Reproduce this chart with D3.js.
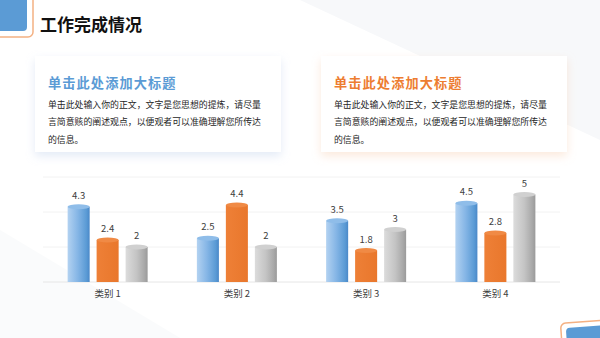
<!DOCTYPE html>
<html>
<head>
<meta charset="utf-8">
<script src="https://cdn.jsdelivr.net/npm/d3@7"></script>
<style>
  body { margin: 0; background: #fff; }
  svg { display: block; font-family: "Noto Sans CJK SC", "Noto Sans", sans-serif; }
</style>
</head>
<body>
<div id="chart"></div>
<script>
// data
const categories = ["类别 1", "类别 2", "类别 3", "类别 4"];
const series1 = [4.3, 2.5, 3.5, 4.5];
const series2 = [2.4, 4.4, 1.8, 2.8];
const series3 = [2, 2, 3, 5];
const yTicks = [0, 2, 4, 6];

const cardTitle = "单击此处添加大标题";
const cardLines = ["单击此处输入你的正文，文字是您思想的提炼，请尽量", "言简意赅的阐述观点，以便观者可以准确理解您所传达", "的信息。"];

const W = 600, H = 338;
const svg = d3.select("#chart").append("svg")
  .attr("width", W).attr("height", H);

const defs = svg.append("defs");

// soft shadows for the two cards
function shadow(id, color) {
  const f = defs.append("filter").attr("id", id)
    .attr("x", "-20%").attr("y", "-30%").attr("width", "140%").attr("height", "160%");
  f.append("feDropShadow").attr("dx", 0).attr("dy", 4).attr("stdDeviation", 5)
    .attr("flood-color", color).attr("flood-opacity", 0.4);
}
shadow("shBlue", "#b9cdea");
shadow("shOrange", "#f6c9a8");

// cylinder gradients
function grad(id, stops) {
  const g = defs.append("linearGradient").attr("id", id)
    .attr("x1", "0%").attr("x2", "100%").attr("y1", "0%").attr("y2", "0%");
  stops.forEach(s => g.append("stop").attr("offset", s[0]).attr("stop-color", s[1]));
}
grad("gBlue", [["0%", "#b3d2f1"], ["45%", "#86b6e6"], ["85%", "#5b9bd5"], ["100%", "#4a88c8"]]);
grad("gOrange", [["0%", "#ee8037"], ["100%", "#e9772c"]]);
grad("gGray", [["0%", "#dcdcdc"], ["50%", "#c4c4c4"], ["85%", "#a9a9a9"], ["100%", "#9a9a9a"]]);

// faint background shapes
svg.append("path").attr("d", "M300,0 L600,0 L600,140 Z").attr("fill", "#f7f8fa");
svg.append("path").attr("d", "M0,230 L0,338 L180,338 Z").attr("fill", "#fafbfc");

// corner decorations
svg.append("rect").attr("x", -12).attr("y", -12).attr("width", 45).attr("height", 49)
  .attr("rx", 5).attr("fill", "none").attr("stroke", "#f4b183").attr("stroke-width", 1.5);
svg.append("rect").attr("x", -12).attr("y", -12).attr("width", 39).attr("height", 43)
  .attr("rx", 4).attr("fill", "#5b9bd5");

const br = svg.append("g").attr("transform", "rotate(-4, 580, 330)");
br.append("rect").attr("x", 561).attr("y", 322).attr("width", 60).attr("height", 40)
  .attr("rx", 5).attr("fill", "none").attr("stroke", "#f4b183").attr("stroke-width", 1.5);
br.append("rect").attr("x", 566).attr("y", 327).attr("width", 60).attr("height", 40)
  .attr("rx", 4).attr("fill", "#5b9bd5");

// page title
svg.append("text").attr("x", 40).attr("y", 31)
  .attr("font-size", 17).attr("font-weight", 700).attr("fill", "#111")
  .text("工作完成情况");

// cards
const cards = [
  { x: 35, color: "#5b9bd5", shadow: "shBlue" },
  { x: 321, color: "#ed7d31", shadow: "shOrange" }
];
cards.forEach(c => {
  const g = svg.append("g").attr("transform", `translate(${c.x},56)`);
  g.append("rect").attr("width", 246).attr("height", 96)
    .attr("fill", "#fff").attr("filter", `url(#${c.shadow})`);
  g.append("text").attr("x", 13).attr("y", 32)
    .attr("font-size", 13.2).attr("font-weight", 700).attr("letter-spacing", 1.1)
    .attr("fill", c.color).text(cardTitle);
  cardLines.forEach((t, i) => {
    g.append("text").attr("x", 13).attr("y", 51.5 + i * 17.5)
      .attr("font-size", 8.9).attr("fill", "#262626").text(t);
  });
});

// chart
const plot = { left: 43, right: 560, top: 170, bottom: 282 };
const x0 = d3.scaleBand().domain(categories).range([plot.left, plot.right]);
const x1 = d3.scaleBand().domain([0, 1, 2]).range([-40, 40]).paddingInner(0.24);
const y = d3.scaleLinear().domain([0, 6]).range([plot.bottom, plot.bottom - 105]);

svg.append("g").selectAll("line").data(yTicks).join("line")
  .attr("x1", plot.left).attr("x2", plot.right)
  .attr("y1", d => y(d)).attr("y2", d => y(d))
  .attr("stroke", d => d === 0 ? "#e6e6e6" : "#f2f2f2").attr("stroke-width", 1);

const seriesList = [
  { values: series1, fill: "url(#gBlue)", cap: "#8fbde9" },
  { values: series2, fill: "url(#gOrange)", cap: "#f08a45" },
  { values: series3, fill: "url(#gGray)", cap: "#d0d0d0" }
];

const groups = svg.append("g").selectAll("g").data(categories).join("g")
  .attr("transform", d => `translate(${x0(d) + x0.bandwidth() / 2},0)`);

seriesList.forEach((s, si) => {
  groups.each(function(cat, ci) {
    const g = d3.select(this);
    const v = s.values[ci];
    const bx = x1(si), bw = x1.bandwidth();
    const top = y(v);
    g.append("rect").attr("x", bx).attr("y", top).attr("width", bw)
      .attr("height", plot.bottom - top).attr("fill", s.fill);
    g.append("ellipse").attr("cx", bx + bw / 2).attr("cy", top)
      .attr("rx", bw / 2).attr("ry", 2.5).attr("fill", s.cap);
    g.append("text").attr("x", bx + bw / 2).attr("y", top - 8)
      .attr("text-anchor", "middle").attr("font-size", 9.5).attr("fill", "#404040")
      .text(v);
  });
});

// category labels
svg.append("g").selectAll("text").data(categories).join("text")
  .attr("x", d => x0(d) + x0.bandwidth() / 2).attr("y", 297)
  .attr("text-anchor", "middle").attr("font-size", 9.5).attr("fill", "#404040")
  .text(d => d);
</script>
</body>
</html>
